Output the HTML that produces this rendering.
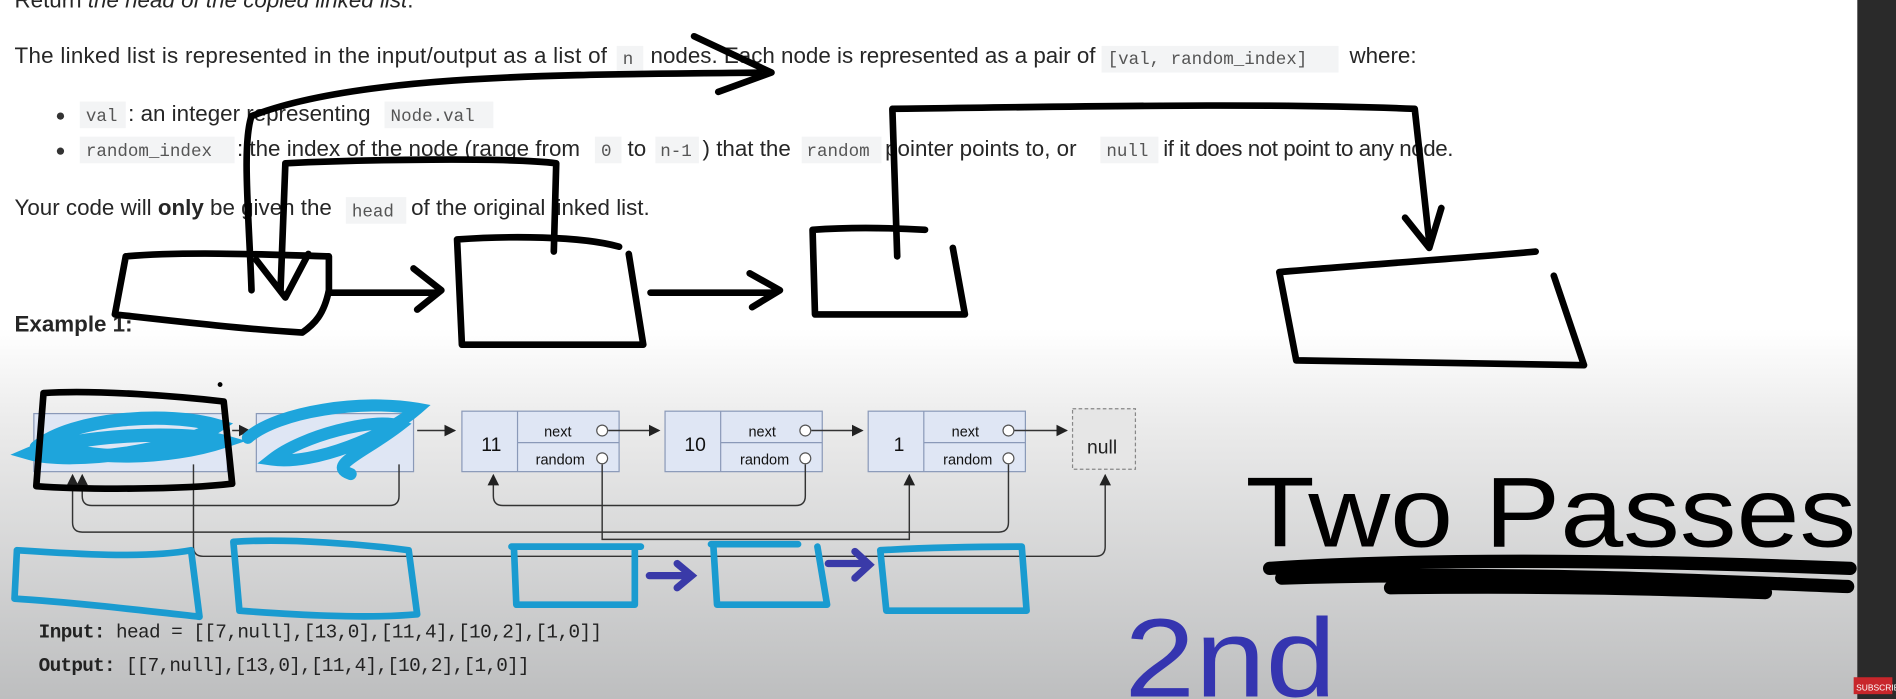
<!DOCTYPE html>
<html><head><meta charset="utf-8"><style>
html,body{margin:0;padding:0;width:1896px;height:699px;overflow:hidden;background:#fff}
svg{display:block}
.t{font-family:"Liberation Sans",sans-serif;font-size:18.5px;fill:#262626}
.m{font-family:"Liberation Mono",monospace;font-size:14.5px;fill:#555}
.cb{fill:#f3f4f5}
.k{fill:none;stroke:#000;stroke-width:5.5;stroke-linecap:round;stroke-linejoin:round}
.b{fill:none;stroke:#1a9bd0;stroke-width:5.5;stroke-linecap:round;stroke-linejoin:round}
.n{fill:#dfe6f4;stroke:#8a99b8;stroke-width:1}
.l{fill:none;stroke:#333;stroke-width:1.2}
</style></head><body>
<svg width="1896" height="699" viewBox="0 0 1568 578" preserveAspectRatio="none">
<defs>
<linearGradient id="g" x1="0" y1="0" x2="0" y2="1">
<stop offset="0" stop-color="#fff"/><stop offset="0.47" stop-color="#fff"/>
<stop offset="0.6" stop-color="#ececec"/><stop offset="1" stop-color="#bdbebf"/>
</linearGradient>
<marker id="a" markerWidth="8" markerHeight="8" refX="7" refY="4" orient="auto"><path d="M0,0L8,4L0,8z" fill="#222"/></marker>
</defs>
<rect width="1568" height="578" fill="url(#g)"/>
<rect x="1536" y="0" width="32" height="578" fill="#2a2a2a"/>
<rect x="1533" y="560" width="32" height="14" fill="#c8262b"/>
<text x="1535" y="571" font-family="Liberation Sans" font-size="7" fill="#fff">SUBSCRIBE</text>

<text class="t" x="12" y="6">Return <tspan font-style="italic">the head of the copied linked list</tspan>.</text>
<text class="t" x="12" y="52" textLength="490">The linked list is represented in the input/output as a list of</text>
<rect class="cb" x="510" y="38" width="22" height="22"/><text class="m" x="515" y="53">n</text>
<text class="t" x="538" y="52">nodes. Each node is represented as a pair of</text>
<rect class="cb" x="911" y="38" width="196" height="22"/><text class="m" x="916" y="53">[val, random_index]</text>
<text class="t" x="1116" y="52">where:</text>
<circle cx="50" cy="96" r="3" fill="#333"/><circle cx="50" cy="125" r="3" fill="#333"/>
<rect class="cb" x="66" y="84" width="38" height="22"/><text class="m" x="71" y="100">val</text>
<text class="t" x="106" y="100">: an integer representing</text>
<rect class="cb" x="318" y="84" width="90" height="22"/><text class="m" x="323" y="100">Node.val</text>
<rect class="cb" x="66" y="113" width="128" height="22"/><text class="m" x="71" y="129">random_index</text>
<text class="t" x="196" y="129">: the index of the node (range from</text>
<rect class="cb" x="492" y="113" width="22" height="22"/><text class="m" x="497" y="129">0</text>
<text class="t" x="519" y="129">to</text>
<rect class="cb" x="542" y="113" width="36" height="22"/><text class="m" x="546" y="129">n-1</text>
<text class="t" x="581" y="129">) that the</text>
<rect class="cb" x="663" y="113" width="66" height="22"/><text class="m" x="667" y="129">random</text>
<text class="t" x="732" y="129">pointer points to, or</text>
<rect class="cb" x="910" y="113" width="48" height="22"/><text class="m" x="915" y="129">null</text>
<text class="t" x="962" y="129" textLength="240">if it does not point to any node.</text>
<text class="t" x="12" y="178">Your code will <tspan font-weight="bold">only</tspan> be given the</text>
<rect class="cb" x="286" y="163" width="50" height="22"/><text class="m" x="291" y="179">head</text>
<text class="t" x="340" y="178">of the original linked list.</text>
<text class="t" x="12" y="274" font-weight="bold">Example 1:</text>

<g>
<rect class="n" x="28" y="342" width="160" height="48"/>
<rect class="n" x="212" y="342" width="130" height="48"/>
<g><rect class="n" x="382" y="340" width="130" height="50"/><line x1="428" y1="340" x2="428" y2="390" stroke="#8a99b8"/><line x1="428" y1="366" x2="512" y2="366" stroke="#8a99b8"/>
<text x="398" y="373" font-family="Liberation Sans" font-size="16" fill="#111">11</text>
<text x="450" y="361" font-family="Liberation Sans" font-size="12" fill="#111">next</text><text x="443" y="384" font-family="Liberation Sans" font-size="12" fill="#111">random</text>
<circle cx="498" cy="356" r="4.5" fill="#fff" stroke="#555"/><circle cx="498" cy="379" r="4.5" fill="#fff" stroke="#555"/></g>
<g><rect class="n" x="550" y="340" width="130" height="50"/><line x1="596" y1="340" x2="596" y2="390" stroke="#8a99b8"/><line x1="596" y1="366" x2="680" y2="366" stroke="#8a99b8"/>
<text x="566" y="373" font-family="Liberation Sans" font-size="16" fill="#111">10</text>
<text x="619" y="361" font-family="Liberation Sans" font-size="12" fill="#111">next</text><text x="612" y="384" font-family="Liberation Sans" font-size="12" fill="#111">random</text>
<circle cx="666" cy="356" r="4.5" fill="#fff" stroke="#555"/><circle cx="666" cy="379" r="4.5" fill="#fff" stroke="#555"/></g>
<g><rect class="n" x="718" y="340" width="130" height="50"/><line x1="764" y1="340" x2="764" y2="390" stroke="#8a99b8"/><line x1="764" y1="366" x2="848" y2="366" stroke="#8a99b8"/>
<text x="739" y="373" font-family="Liberation Sans" font-size="16" fill="#111">1</text>
<text x="787" y="361" font-family="Liberation Sans" font-size="12" fill="#111">next</text><text x="780" y="384" font-family="Liberation Sans" font-size="12" fill="#111">random</text>
<circle cx="834" cy="356" r="4.5" fill="#fff" stroke="#555"/><circle cx="834" cy="379" r="4.5" fill="#fff" stroke="#555"/></g>
<rect x="887" y="338" width="52" height="50" fill="#e6e6e6" stroke="#888" stroke-dasharray="3,2"/>
<text x="899" y="375" font-family="Liberation Sans" font-size="16" fill="#222">null</text>
<path class="l" d="M345 356H376" marker-end="url(#a)"/>
<path class="l" d="M503 356H545" marker-end="url(#a)"/>
<path class="l" d="M671 356H713" marker-end="url(#a)"/>
<path class="l" d="M839 356H882" marker-end="url(#a)"/>
<path class="l" d="M192 356H206" marker-end="url(#a)"/>
<path class="l" d="M330 384V410Q330 418 322 418H76Q68 418 68 410V393" marker-end="url(#a)"/>
<path class="l" d="M666 384V410Q666 418 658 418H416Q408 418 408 410V393" marker-end="url(#a)"/>
<path class="l" d="M834 384V432Q834 440 826 440H68Q60 440 60 432V393" marker-end="url(#a)"/>
<path class="l" d="M498 384V446H752V393" marker-end="url(#a)"/>
<path class="l" d="M160 384V452Q160 460 168 460H906Q914 460 914 452V393" marker-end="url(#a)"/>
</g>

<path d="M30 370C60 345 140 340 180 352C150 372 60 385 25 375C60 360 150 355 185 365C140 380 70 382 40 365" fill="none" stroke="#1ea5dc" stroke-width="11" stroke-linecap="round"/>
<path d="M205 362C230 340 300 330 345 338C320 360 260 385 225 380C250 360 310 345 330 352C300 375 270 385 290 392" fill="none" stroke="#1ea5dc" stroke-width="10" stroke-linecap="round"/>
<path class="b" d="M14 455C60 458 120 462 158 455M14 455L12 495C60 498 120 505 165 510L158 455"/>
<path class="b" d="M193 448C240 445 300 450 338 455L345 508C300 512 240 508 198 505L193 448"/>
<path class="b" d="M423 452H530M425 452L427 500H525L525 455"/>
<path class="b" d="M588 450H660M590 452L593 500H684L676 452"/>
<path class="b" d="M728 455C780 452 820 452 845 452L849 505H733L728 455"/>
<path d="M537 476H570M560 466L572 476L560 486" fill="none" stroke="#3a3aa8" stroke-width="6" stroke-linecap="round"/>
<path d="M685 466H718M707 456L719 467L707 478" fill="none" stroke="#3a3aa8" stroke-width="6" stroke-linecap="round"/>

<path class="k" d="M36 325C80 322 150 328 185 332L192 400C150 405 70 405 30 402L36 325"/>
<circle cx="182" cy="318" r="2" fill="#000"/>
<path class="k" d="M104 212L95 260C140 265 200 272 250 275C260 268 268 260 272 240L272 212C210 210 150 208 104 212"/>
<path class="k" d="M208 240C206 180 200 120 208 96C300 60 480 62 628 60M574 30L638 60L594 76"/>
<path class="k" d="M232 240L236 135C300 132 420 130 460 135L458 208M212 215L236 246L255 210"/>
<path class="k" d="M272 242H360M342 222L365 240L345 256"/>
<path class="k" d="M378 198C420 195 480 195 512 204M378 198L382 285H532L520 210"/>
<path class="k" d="M538 242H640M620 226L645 240L622 254"/>
<path class="k" d="M672 190C700 188 730 188 765 190M672 190L674 260H798L788 205"/>
<path class="k" d="M742 212L738 90C900 88 1050 85 1170 90L1182 200M1162 180L1182 205L1192 172"/>
<path class="k" d="M1058 225C1140 218 1230 212 1270 208M1058 225L1072 298L1310 302L1285 228"/>

<text x="1030" y="452" font-family="Liberation Sans" font-size="82" fill="#000" textLength="505" lengthAdjust="spacingAndGlyphs">Two Passes</text>
<path d="M1050 470C1200 460 1400 465 1530 470M1060 478C1250 472 1400 480 1528 485M1150 486C1300 484 1400 488 1460 490" fill="none" stroke="#000" stroke-width="11" stroke-linecap="round"/>
<text x="930" y="576" font-family="Liberation Sans" font-size="92" fill="#3535b0" textLength="175" lengthAdjust="spacingAndGlyphs">2nd</text>

<text x="32" y="527" font-family="Liberation Mono" font-size="16" fill="#222" textLength="466"><tspan font-weight="bold">Input:</tspan> head = [[7,null],[13,0],[11,4],[10,2],[1,0]]</text>
<text x="32" y="555" font-family="Liberation Mono" font-size="16" fill="#222" textLength="406"><tspan font-weight="bold">Output:</tspan> [[7,null],[13,0],[11,4],[10,2],[1,0]]</text>
</svg>
</body></html>
